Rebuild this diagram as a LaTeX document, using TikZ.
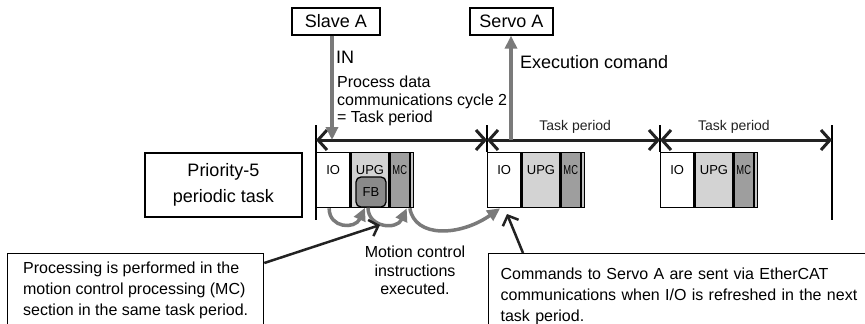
\documentclass[tikz,border=0pt]{standalone}
\usepackage{fontspec}
\setmainfont{Liberation Sans}
\usetikzlibrary{arrows.meta,calc}

\definecolor{arrowgray}{HTML}{7A7A7A}
\definecolor{upggray}{HTML}{D3D3D3}
\definecolor{mcgray}{HTML}{9E9E9E}
\definecolor{fbgray}{HTML}{8A8A8A}
\definecolor{stripgray}{HTML}{C4C4C4}
\definecolor{darkline}{HTML}{222222}

\newcommand{\fs}[2]{\fontsize{#1}{#2}\selectfont}

\begin{document}
\begin{tikzpicture}[
  x=1pt, y=-1pt,
  every node/.style={inner sep=0pt},
  unitbox/.style={draw, line width=1.3pt, font=\fs{18}{22}},
  seg/.style={draw, line width=1.3pt, anchor=north west, minimum height=55pt,
    text height=22pt, text depth=33pt, font=\fs{13}{13}},
  fbbox/.style={draw, line width=1.3pt, fill=fbgray, rounded corners=5pt,
    minimum width=30pt, minimum height=30pt, font=\fs{13}{13}},
  notebox/.style={draw, line width=1.3pt, anchor=north west, align=left,
    font=\fs{16}{21}, text depth=70pt},
  gray arrow/.style={arrowgray, line width=3.5pt,
    -{Triangle[length=13pt,width=12pt]}},
  period/.style={darkline, line width=3pt,
    {Straight Barb[length=9pt,width=20pt]}-{Straight Barb[length=9pt,width=20pt]}},
  callout/.style={darkline, line width=2.5pt,
    -{Straight Barb[length=8pt,width=17pt]}},
  tick/.style={line width=1.3pt}
]
\useasboundingbox (0,0) rectangle (865,324);

% devices
\node[unitbox, minimum width=88pt, minimum height=27pt] (slave) at (336,21.5) {Slave A};
\node[unitbox, minimum width=83pt, minimum height=27pt] (servo) at (511.5,21.5) {Servo A};

% task period marks
\coordinate (t0) at (316,140);
\coordinate (t1) at (487,140);
\coordinate (t2) at (660,140);
\coordinate (t3) at (832,140);
\draw[tick] (316,125) -- (316,220);
\draw[tick] (487,125) -- (487,152);
\draw[tick] (660,125) -- (660,152);
\draw[tick] (832,125) -- (832,220);

% task blocks
\foreach \x/\n in {316/a, 487/b, 660/c}{
  \node[seg, minimum width=33pt] (io\n) at (\x,152) {IO};
  \node[seg, minimum width=38pt, fill=upggray] (upg\n) at (io\n.north east) {UPG};
  \node[seg, minimum width=19pt, fill=mcgray] (mc\n) at (upg\n.north east) {\scalebox{.72}[1]{MC}};
  \node[seg, minimum width=3pt, fill=stripgray] (end\n) at (mc\n.north east) {};
}
\node[fbbox] (fba) at (371,192) {FB};

\draw[period] (t0) -- (t1);
\draw[period] (t1) -- node[pos=.51, above=5pt, font=\fs{14}{14}] {Task period} (t2);
\draw[period] (t2) -- node[pos=.43, above=5pt, font=\fs{14}{14}] {Task period} (t3);

% data exchange
\coordinate (in) at (332,140);
\coordinate (out) at (511,140);
\draw[gray arrow] (slave.south -| in) -- (in);
\draw[gray arrow] (out) -- (servo.south -| out);
\node[anchor=west, font=\fs{18}{20}] (inlabel) at (336,57) {IN};
\node[anchor=north west, align=left, font=\fs{16}{17.5}] (cycle) at (337,76)
  {Process data\\communications cycle 2\\= Task period};
\node[anchor=west, font=\fs{18}{20}] (cmdlabel) at (520,62) {Execution comand};

\node[unitbox, minimum width=157pt, minimum height=64pt, align=center,
  font=\fs{18}{26}] (prio) at (223.5,185) {Priority-5\\periodic task};

% processing order
\draw[gray arrow] ([xshift=-4pt]ioa.south) .. controls +(0,20) and +(-10,22) .. ([xshift=-6pt]fba.south);
\draw[gray arrow] ([xshift=-3pt]fba.south) .. controls +(0,20) and +(-10,22) .. ([xshift=7pt]mca.south);
\draw[gray arrow] (mca.south east) .. controls +(5,30) and +(-40,28) .. ([xshift=-4pt]iob.south);

\node[align=center, anchor=north, font=\fs{16}{18.5}] (mcnote) at (415,246)
  {Motion control\\instructions\\executed.};

% notes
\node[notebox, minimum width=256pt, inner ysep=8pt] (samebox) at (7,253)
  {Processing is performed in the\\motion control processing (MC)\\section in the same task period.};
\node[notebox, text width=400pt, inner xsep=12pt, inner ysep=14pt] (nextbox) at (488,253)
  {Commands to Servo A are sent via EtherCAT\\communications when I/O is refreshed in the next\\task period.};

\coordinate (exechit) at (380,225);
\coordinate (iohit) at (507,214);
\draw[callout] ($(samebox.north east)+(0,10)$) -- (exechit);
\draw[callout] ($(nextbox.north west)+(35,0)$) -- (iohit);
\end{tikzpicture}
\end{document}
